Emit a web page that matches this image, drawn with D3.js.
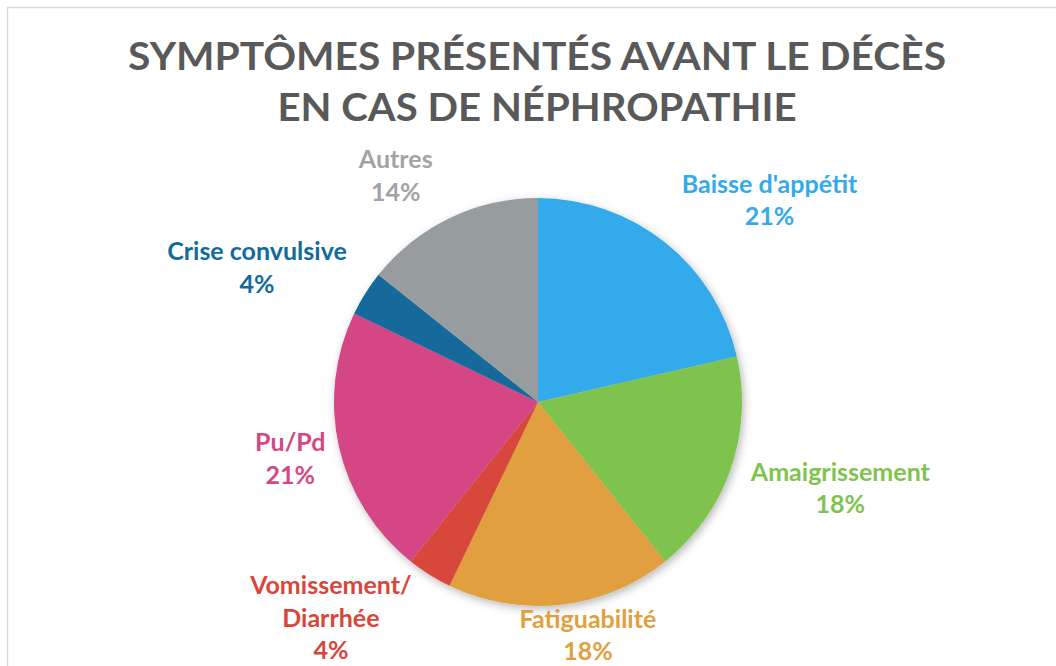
<!DOCTYPE html>
<html><head><meta charset="utf-8">
<script src="https://cdn.jsdelivr.net/npm/d3@7"></script>
<style>html,body{margin:0;padding:0;background:#fff;overflow:hidden}</style>
</head><body>
<svg id="c" width="1056" height="666"></svg>
<script>
const categories = ["Baisse d'appétit","Amaigrissement","Fatiguabilité","Vomissement/\nDiarrhée","Pu/Pd","Crise convulsive","Autres"];
const counts = [6,5,5,1,6,1,4];
const percentLabels = ["21%","18%","18%","4%","21%","4%","14%"];
const colors = ["#32aaeb","#7fc34f","#e29f3f","#d8463a","#d54784","#126b9b","#979c9f"];
const textColors = ["#32aaeb","#7fc34f","#e29f3f","#d8463a","#d54784","#126b9b","#a0a4a6"];
const titleLines = ["SYMPTÔMES PRÉSENTÉS AVANT LE DÉCÈS","EN CAS DE NÉPHROPATHIE"];
// label nudges (layout only)
const labelNudge = [[0,4],[0,-4],[4,-18],[-2,-20],[6,-4],[0,10],[-2,5]];

const svg = d3.select("#c");
const W = 1056, H = 666;
svg.append("rect").attr("x",7.5).attr("y",7.5).attr("width",W+20).attr("height",H+20)
  .attr("fill","#fff").attr("stroke","#d9d9d9").attr("stroke-width",1.5);

const defs = svg.append("defs");
const f = defs.append("filter").attr("id","sh").attr("x","-20%").attr("y","-20%").attr("width","140%").attr("height","140%");
f.append("feDropShadow").attr("dx",2).attr("dy",3).attr("stdDeviation",4).attr("flood-color","#000").attr("flood-opacity",0.28);

const tW = [818, 519];
const tY = [70, 121];
titleLines.forEach((t,i)=>{
  svg.append("text").attr("x",537).attr("y",tY[i]).attr("text-anchor","middle")
    .attr("font-family","Lato, 'Open Sans', sans-serif").attr("font-weight","bold")
    .attr("font-size",38).attr("fill","#595959")
    .attr("textLength",tW[i]).attr("lengthAdjust","spacingAndGlyphs").text(t);
});

const cx = 538, cy = 402, R = 204;
const pie = d3.pie().sort(null).value(d=>d);
const arcs = pie(counts);
const arc = d3.arc().innerRadius(0).outerRadius(R);
const g = svg.append("g").attr("transform",`translate(${cx},${cy})`);
g.append("g").attr("filter","url(#sh)").selectAll("path").data(arcs).join("path")
  .attr("d",arc).attr("fill",(d,i)=>colors[i]);

const fs = 25, lh = 32.5;
const lg = svg.append("g").attr("font-family","Lato, 'Open Sans', sans-serif").attr("font-weight","bold").attr("font-size",fs);
arcs.forEach((a,i)=>{
  const th = (a.startAngle + a.endAngle)/2;
  const s = Math.sin(th), c = Math.cos(th);
  const lines = categories[i].split("\n").concat([percentLabels[i]]);
  const t = lg.append("text").attr("text-anchor","middle").attr("fill",textColors[i]);
  lines.forEach((l,k)=> t.append("tspan").attr("x",0).attr("dy", k===0?0:lh).text(l));
  const bb = t.node().getBBox();
  const w = bb.width, h = lines.length*lh;
  const px = cx + (R+10)*s, py = cy - (R+10)*c;
  const clamp = v=>Math.max(-1,Math.min(1,v));
  const ox = (w/2+10)*clamp(2.5*s);
  const oy = (h/2+6)*clamp(-1.5*c);
  const ccx = px + ox + labelNudge[i][0];
  const ccy = py + oy + labelNudge[i][1];
  const y0 = ccy - h/2 + lh*0.5 + fs*0.36;
  t.attr("transform",`translate(${ccx},${y0})`);
});
</script>
</body></html>
